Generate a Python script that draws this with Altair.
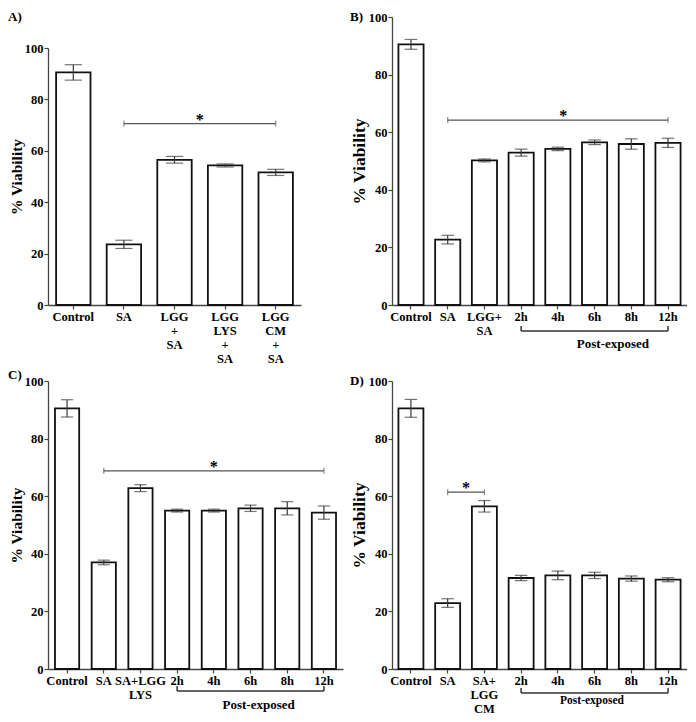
import altair as alt
import pandas as pd

# ---------------- data ----------------
A_CATS = ["Control", "SA", "LGG|+|SA", "LGG|LYS|+|SA", "LGG|CM|+|SA"]
A_MEAN = [90.5, 23.6, 56.5, 54.3, 51.6]
A_ERR = [3.0, 1.6, 1.3, 0.6, 1.2]
A_SIG = ["SA", "LGG|CM|+|SA", 70.6]

B_CATS = ["Control", "SA", "LGG+|SA", "2h", "4h", "6h", "8h", "12h"]
B_MEAN = [90.5, 22.7, 50.2, 52.9, 54.2, 56.5, 55.9, 56.3]
B_ERR = [1.7, 1.5, 0.5, 1.2, 0.6, 0.8, 1.8, 1.6]
B_SIG = ["SA", "12h", 64.2]

C_CATS = ["Control", "SA", "SA+LGG|LYS", "2h", "4h", "6h", "8h", "12h"]
C_MEAN = [90.5, 37.0, 62.8, 55.0, 55.0, 55.8, 55.8, 54.3]
C_ERR = [3.0, 0.8, 1.2, 0.5, 0.5, 1.1, 2.3, 2.3]
C_SIG = ["SA", "12h", 68.8]

D_CATS = ["Control", "SA", "SA+|LGG|CM", "2h", "4h", "6h", "8h", "12h"]
D_MEAN = [90.5, 22.9, 56.5, 31.6, 32.5, 32.5, 31.4, 31.0]
D_ERR = [3.1, 1.5, 2.0, 0.9, 1.5, 1.1, 0.9, 0.7]
D_SIG = ["SA", "SA+|LGG|CM", 61.4]

POST = ["2h", "12h", "6h", "Post-exposed"]
Y_TICKS = [0, 20, 40, 60, 80, 100]
Y_TITLE = "% Viability"

FONT = "Liberation Serif"
AX = "#444444"
ERRC = "#3a3a3a"
SIGC = "#555555"


def panel(cats, mean, err, sig, star_cat, label, *, W, H, p_in, p_out,
          ytitle_size, ytitle_x, label_x, label_y, y_top=0, star_shift=0.0,
          post=False, post_gap=(26, 39), post_size=13, post_shift=0.0):
    n = len(cats)
    step = W / (n - p_in + 2 * p_out)
    bw = step * (1 - p_in)

    xscale = alt.Scale(domain=cats, paddingInner=p_in, paddingOuter=p_out)
    xaxis = alt.Axis(title=None, labelExpr="split(datum.label, '|')", labelAngle=0,
                     labelFont=FONT, labelFontWeight="bold", labelFontSize=12.5,
                     labelColor="black", labelLineHeight=14, labelPadding=1,
                     labelBaseline="top", tickSize=4, tickColor=AX, tickWidth=1.2,
                     domainColor=AX, domainWidth=1.3)
    yscale = alt.Scale(domain=[0, 100], nice=False, zero=True, range=[H, y_top])
    yaxis = alt.Axis(title=Y_TITLE, values=Y_TICKS, grid=False,
                     labelFont=FONT, labelFontWeight="bold", labelFontSize=12.5,
                     labelColor="black", labelPadding=1, tickSize=4, tickColor=AX,
                     tickWidth=1.2, domainColor=AX, domainWidth=1.3,
                     titleFont=FONT, titleFontWeight="bold", titleFontSize=ytitle_size,
                     titleColor="black", titleX=ytitle_x, titleY=(H + y_top) / 2,
                     titleAngle=270, titleBaseline="middle", titleAlign="center")

    def X(center=True):
        if center:
            return alt.X("cat:N", scale=xscale, axis=xaxis, bandPosition=0.5)
        return alt.X("cat:N", scale=xscale, axis=xaxis)

    def Y(f):
        return alt.Y(f"{f}:Q", scale=yscale, axis=yaxis)

    lo = [m - e for m, e in zip(mean, err)]
    hi = [m + e for m, e in zip(mean, err)]
    df = pd.DataFrame({"cat": cats, "mean": mean, "lo": lo, "hi": hi})
    caps = pd.DataFrame({"cat": cats + cats, "v": lo + hi})
    sig_df = pd.DataFrame({"cat": [sig[0]], "end": [sig[1]], "v": [sig[2]]})
    sig_ends = pd.DataFrame({"cat": [sig[0], sig[1]], "v": [sig[2], sig[2]]})
    star_df = pd.DataFrame({"cat": [star_cat], "v": [sig[2]], "t": ["*"]})
    lab_df = pd.DataFrame({"t": [label]})

    layers = [
        alt.Chart(df).mark_bar(fill="white", stroke="#111111", strokeWidth=1.8)
        .encode(x=X(False), y=Y("mean")),
        alt.Chart(df).mark_rule(color=ERRC, strokeWidth=1.2)
        .encode(x=X(), y=Y("lo"), y2="hi:Q"),
        alt.Chart(caps).mark_tick(color=ERRC, thickness=1.2, size=bw * 0.5,
                                  orient="horizontal")
        .encode(x=X(), y=Y("v")),
        alt.Chart(sig_df).mark_rule(color=SIGC, strokeWidth=1.2)
        .encode(x=X(), x2=alt.X2("end:N", bandPosition=0.5), y=Y("v")),
        alt.Chart(sig_ends).mark_tick(color=SIGC, thickness=1.2, size=6,
                                      orient="vertical")
        .encode(x=X(), y=Y("v")),
        alt.Chart(star_df).mark_text(font=FONT, fontWeight="bold", fontSize=16,
                                     color="black", baseline="alphabetic",
                                     dx=star_shift * step, dy=1)
        .encode(x=X(), y=Y("v"), text="t:N"),
        alt.Chart(lab_df).mark_text(font=FONT, fontWeight="bold", fontSize=13,
                                    color="black", align="left", baseline="middle")
        .encode(x=alt.value(label_x), y=alt.value(label_y), text="t:N"),
    ]
    if post:
        g1, g2 = post_gap
        br = pd.DataFrame({"cat": [POST[0]], "end": [POST[1]]})
        br_ends = pd.DataFrame({"cat": [POST[0], POST[1]]})
        br_txt = pd.DataFrame({"cat": [POST[2]], "t": [POST[3]]})
        layers += [
            alt.Chart(br).mark_rule(color="#333333", strokeWidth=1.5)
            .encode(x=X(), x2=alt.X2("end:N", bandPosition=0.5), y=alt.value(H + g1)),
            alt.Chart(br_ends).mark_rule(color="#333333", strokeWidth=1.5)
            .encode(x=X(), y=alt.value(H + g1 - 5), y2=alt.value(H + g1)),
            alt.Chart(br_txt).mark_text(font=FONT, fontWeight="bold", fontSize=post_size,
                                        color="black", baseline="middle",
                                        dx=post_shift * step)
            .encode(x=X(), y=alt.value(H + g2), text="t:N"),
        ]
    return alt.layer(*layers).properties(width=W, height=H)


H1 = 288
H2 = 288
pA = panel(A_CATS, A_MEAN, A_ERR, A_SIG, "LGG|+|SA", "A)", W=253, H=H1, y_top=31,
           p_in=0.32, p_out=0.16, ytitle_size=15.5, ytitle_x=-32,
           label_x=-40, label_y=0, star_shift=0.5)
pB = panel(B_CATS, B_MEAN, B_ERR, B_SIG, "4h", "B)", W=295, H=H1,
           p_in=0.315, p_out=0.175, ytitle_size=17.5, ytitle_x=-33,
           label_x=-42, label_y=0, star_shift=0.15,
           post=True, post_gap=(26, 39), post_size=13, post_shift=0.5)
pC = panel(C_CATS, C_MEAN, C_ERR, C_SIG, "4h", "C)", W=295, H=H2,
           p_in=0.34, p_out=0.19, ytitle_size=15.5, ytitle_x=-32,
           label_x=-40, label_y=-6,
           post=True, post_gap=(22, 36), post_size=13, post_shift=0.22)
pD = panel(D_CATS, D_MEAN, D_ERR, D_SIG, "SA", "D)", W=295, H=H2,
           p_in=0.32, p_out=0.175, ytitle_size=17.5, ytitle_x=-33,
           label_x=-42, label_y=0, star_shift=0.5,
           post=True, post_gap=(24, 32), post_size=11.5, post_shift=-0.07)

top = alt.hconcat(pA, pB, spacing=49)
bottom = alt.hconcat(pC, pD, spacing=7)
chart = (
    alt.vconcat(top, bottom, spacing=4)
    .properties(padding={"top": 3, "left": 0, "right": 0, "bottom": 0},
                background="white")
    .configure_view(strokeWidth=0)
)

chart.save("out.html", embed_options={"renderer": "svg", "actions": False})
